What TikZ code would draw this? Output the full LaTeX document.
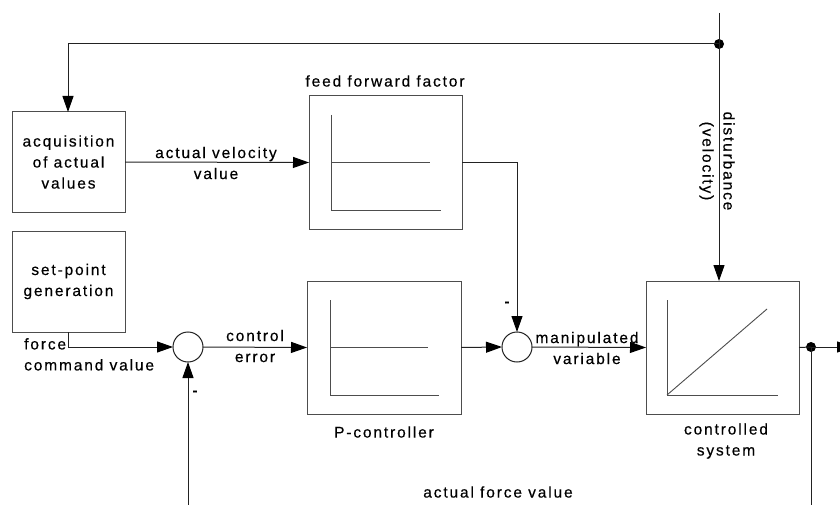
\documentclass[tikz,border=0pt]{standalone}
\usepackage{fontspec}
\setmainfont[LetterSpace=12,FakeBold=0.4]{Liberation Sans}
\usetikzlibrary{arrows.meta}
\definecolor{ink}{HTML}{222222}
\definecolor{frame}{HTML}{4D4D4D}
\tikzset{
  blk/.style={draw=frame, line width=1pt, rectangle, inner sep=0pt, outer sep=0pt},
  sumpt/.style={draw=ink, line width=1pt, circle, minimum size=30pt, inner sep=0pt, outer sep=0pt},
  joint/.style={circle, fill=black, minimum size=10pt, inner sep=0pt, outer sep=0pt},
  sig/.style={draw=ink, line width=1pt},
  sigar/.style={sig, arrows={-Triangle[length=16pt,width=11pt,fill=black,color=black]}},
  lbl/.style={font=\fontsize{15.5}{21}\selectfont, align=center, inner sep=0pt, text=black},
  curve/.style={draw=frame, line width=0.9pt}
}
\begin{document}
\begin{tikzpicture}[x=1pt,y=-1pt]
\useasboundingbox (0,0) rectangle (840,505);
\clip (0,0) rectangle (840,505);
\fill[white] (0,0) rectangle (840,505);

% blocks
\node[blk, minimum width=113pt, minimum height=100pt] (acq) at (68.5,162) {};
\node[lbl] at (acq.center) {acquisition\\of actual\\values};
\node[blk, minimum width=113pt, minimum height=101pt] (sp) at (68.5,281.5) {};
\node[lbl] at (sp.center) {set-point\\generation};
\node[blk, minimum width=153pt, minimum height=133pt] (ff) at (385.5,162.5) {};
\node[blk, minimum width=154pt, minimum height=133pt] (pc) at (384,347.5) {};
\node[blk, minimum width=153pt, minimum height=133pt] (cs) at (722.5,347.5) {};

% characteristic curves inside the blocks
\draw[curve] (331,115) -- (331,210) -- (441,210);
\draw[curve] (331,162) -- (430,162);
\draw[curve] (330,300) -- (330,395) -- (439,395);
\draw[curve] (330,347) -- (428,347);
\draw[curve] (667,300) -- (667,395) -- (778,395);
\draw[curve] (667,395) -- (767,309);

% block captions
\node[lbl] (ffcap) at (385,81) {feed forward factor};
\node[lbl] (pccap) at (384,432) {P-controller};
\node[lbl] (cscap) at (726,441) {controlled\\system};

% summing points and branch points
\node[sumpt] (sum1) at (188,347) {};
\node[sumpt] (sum2) at (517,347) {};
\node[joint] (topdot) at (719,44) {};
\node[joint] (outdot) at (811,347) {};
\coordinate (dtop) at (719,13);
\coordinate (outend) at (853,347);
\coordinate (fbcorner) at (811,520);
\coordinate (spfoot) at (68,347);

% disturbance path
\draw[sig] (dtop) -- (topdot.center);
\draw[sigar] (topdot.center) -- (cs.north -| topdot);
\draw[sigar] (topdot.center) -| (acq.north -| 68,0);
\node[lbl, rotate=-90] (dist) at (717,161) {disturbance\\(velocity)};

% feed forward path
\draw[sigar] (acq.east) -- (ff.west);
\node[lbl] (avv) at (216,163) {actual velocity\\value};
\draw[sigar] (ff.east) -| (sum2.north);
\node[lbl, font=\fontsize{14}{21}\selectfont\bfseries] at (507,304) {-};

% main control loop
\draw[sigar] (sp.south -| spfoot) |- (sum1.west);
\node[lbl, anchor=north west, align=left] (fcv) at (24,338) {force\\command value};
\draw[sigar] (sum1.east) -- (pc.west);
\node[lbl] (cerr) at (255,346) {control\\error};
\draw[sigar] (pc.east) -- (sum2.west);
\draw[sigar] (sum2.east) -- (cs.west);
\node[lbl] (mv) at (587,348) {manipulated\\variable};
\draw[sig] (cs.east) -- (outdot.center);
\draw[sigar] (outdot.center) -- (outend);

% feedback of the measured force
\draw[sigar] (outdot.center) -- (fbcorner) -| (sum1.south);
\node[lbl, font=\fontsize{14}{21}\selectfont\bfseries] at (195,393) {-};
\node[lbl] (afv) at (498,492) {actual force value};
\end{tikzpicture}
\end{document}
